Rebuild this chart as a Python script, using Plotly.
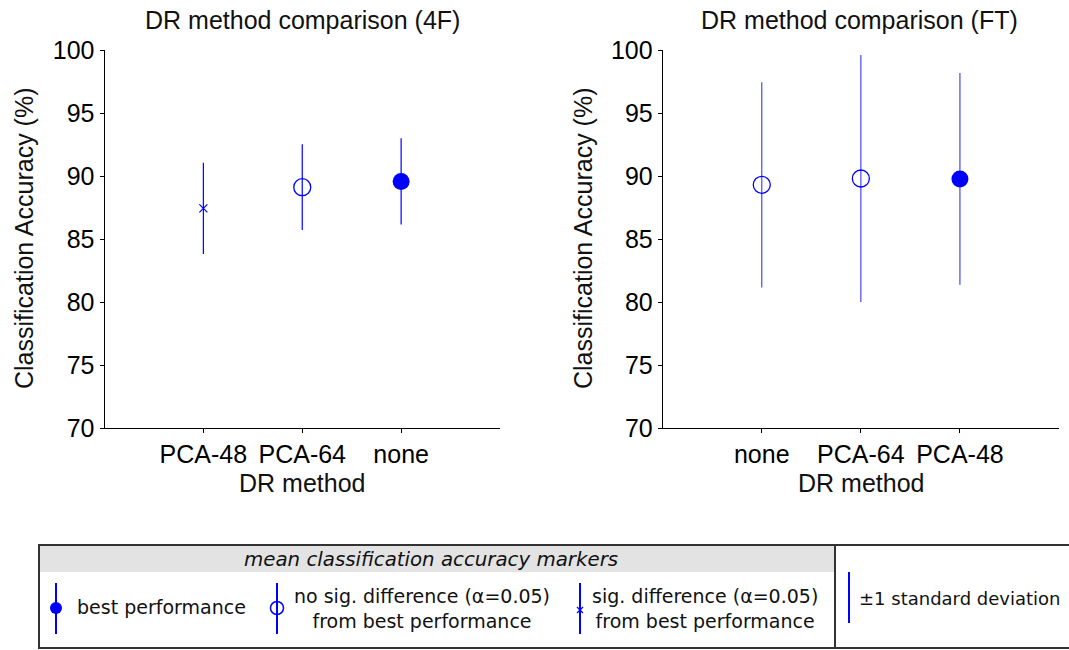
import plotly.graph_objects as go

# ---- data ----
cat_4f = ["PCA-48", "PCA-64", "none"]
mean_4f = [87.43, 89.11, 89.57]
sd_4f = [3.63, 3.40, 3.42]
status_4f = ["sig", "nosig", "best"]

cat_ft = ["none", "PCA-64", "PCA-48"]
mean_ft = [89.30, 89.80, 89.77]
sd_ft = [8.15, 9.80, 8.40]
status_ft = ["nosig", "nosig", "best"]

y_ticks = [70, 75, 80, 85, 90, 95, 100]

W, H = 1069, 650
BLUE = "#0000ff"
FONT = "Liberation Sans, Arial, sans-serif"
LFONT = "DejaVu Sans, Verdana, sans-serif"

SYM = {"best": "circle", "nosig": "circle-open", "sig": "x-thin"}
SIZE = {"best": 17, "nosig": 17, "sig": 8}
LW = {"best": 0, "nosig": 1.3, "sig": 1.2}

fig = go.Figure()


def add_panel(cats, means, sds, status, xa, ya, err_color):
    fig.add_trace(go.Scatter(
        x=cats, y=means, mode="markers", xaxis=xa, yaxis=ya,
        error_y=dict(type="data", array=sds, visible=True, width=0,
                     thickness=1.2, color=err_color),
        marker=dict(symbol=[SYM[s] for s in status],
                    size=[SIZE[s] for s in status],
                    color=BLUE, opacity=1,
                    line=dict(color=BLUE, width=[LW[s] for s in status])),
        opacity=1, showlegend=False, hoverinfo="skip"))


add_panel(cat_4f, mean_4f, sd_4f, status_4f, "x", "y", BLUE)
add_panel(cat_ft, mean_ft, sd_ft, status_ft, "x2", "y2", "rgb(70,70,255)")


def px(x):
    return x / W


def py(y):
    return 1 - y / H


y_dom = [py(428), py(50)]
ax_common = dict(showline=True, linecolor="black", linewidth=1, ticks="outside",
                 ticklen=4, tickcolor="black", showgrid=False, zeroline=False,
                 automargin=False,
                 tickfont=dict(family=FONT, size=25, color="black"))

fig.update_layout(
    template="none",
    width=W, height=H, margin=dict(l=0, r=0, t=0, b=0, pad=0, autoexpand=False),
    paper_bgcolor="white", plot_bgcolor="rgba(0,0,0,0)",
    xaxis=dict(domain=[px(104.5), px(500)], type="category", range=[-1, 3],
               anchor="y", **ax_common),
    yaxis=dict(domain=y_dom, range=[70, 100], tickvals=y_ticks, anchor="x",
               **ax_common),
    xaxis2=dict(domain=[px(662.7), px(1059)], type="category", range=[-1, 3],
                anchor="y2", **ax_common),
    yaxis2=dict(domain=y_dom, range=[70, 100], tickvals=y_ticks, anchor="x2",
                **ax_common),
    # overlay axis in pixel units for the legend box glyphs
    xaxis3=dict(domain=[0, 1], range=[0, W], visible=False, anchor="y3",
                fixedrange=True, automargin=False),
    yaxis3=dict(domain=[0, 1], range=[H, 0], visible=False, anchor="x3",
                fixedrange=True, automargin=False),
)

ann = []


def text(x, y, s, size=25, angle=0, xanchor="center", family=FONT, italic=False):
    ann.append(dict(x=px(x), y=py(y), xref="paper", yref="paper", text=s,
                    showarrow=False, xanchor=xanchor, yanchor="middle",
                    textangle=angle,
                    font=dict(family=family, size=size, color="#111",
                              style="italic" if italic else "normal")))


# titles / axis labels
text(302, 20, "DR method comparison (4F)")
text(859, 20, "DR method comparison (FT)")
text(302, 483, "DR method")
text(861, 483, "DR method")
text(24, 239, "Classification Accuracy (%)", angle=-90)
text(583, 239, "Classification Accuracy (%)", angle=-90)

# legend texts
text(431, 559, "mean classification accuracy markers", size=19.8, family=LFONT, italic=True)
text(75, 607, "best performance", size=19, family=LFONT, xanchor="left")
text(422, 608, "no sig. difference (α=0.05)<br>from best performance", size=19, family=LFONT)
text(705, 608, "sig. difference (α=0.05)<br>from best performance", size=19, family=LFONT)
text(857, 598, "±1 standard deviation", size=18, family=LFONT, xanchor="left")
fig.update_layout(annotations=ann)

# legend box shapes (pixel coords via overlay axis)
shapes = [
    dict(type="rect", xref="x3", yref="y3", x0=39, x1=835, y0=545, y1=572,
         fillcolor="#e3e3e3", line=dict(width=0), layer="below"),
    dict(type="rect", xref="x3", yref="y3", x0=39, x1=1075, y0=545, y1=648,
         line=dict(color="#333", width=2), fillcolor="rgba(0,0,0,0)"),
    dict(type="line", xref="x3", yref="y3", x0=835, x1=835, y0=545, y1=648,
         line=dict(color="#333", width=2)),
]
for lx in [56, 277, 580]:
    shapes.append(dict(type="line", xref="x3", yref="y3", x0=lx, x1=lx,
                       y0=583, y1=634, line=dict(color=BLUE, width=2)))
shapes.append(dict(type="line", xref="x3", yref="y3", x0=849, x1=849,
                   y0=572, y1=623, line=dict(color=BLUE, width=2)))
fig.update_layout(shapes=shapes)

# legend marker glyphs
leg_x = [56, 277, 580]
leg_y = [608, 608, 610]
leg_status = ["best", "nosig", "sig"]
fig.add_trace(go.Scatter(
    x=leg_x, y=leg_y, mode="markers", xaxis="x3", yaxis="y3",
    marker=dict(symbol=[SYM[s] for s in leg_status], size=[12, 13, 6],
                color=BLUE, opacity=1, line=dict(color=BLUE, width=[0, 1.5, 1.2])),
    opacity=1, showlegend=False, hoverinfo="skip", cliponaxis=False))

fig.write_html("out.html")
